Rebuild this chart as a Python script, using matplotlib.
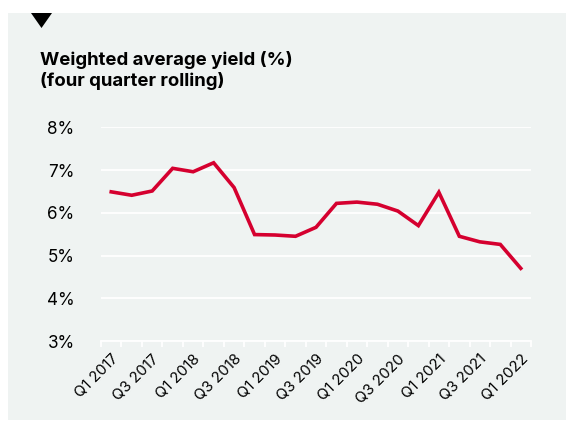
import matplotlib
matplotlib.use("Agg")
import matplotlib.pyplot as plt
from matplotlib.patches import Rectangle, Polygon
import numpy as np

plt.rcParams['font.family'] = ['Inter', 'DejaVu Sans']

quarters = ['Q1 2017', 'Q2 2017', 'Q3 2017', 'Q4 2017',
            'Q1 2018', 'Q2 2018', 'Q3 2018', 'Q4 2018',
            'Q1 2019', 'Q2 2019', 'Q3 2019', 'Q4 2019',
            'Q1 2020', 'Q2 2020', 'Q3 2020', 'Q4 2020',
            'Q1 2021', 'Q2 2021', 'Q3 2021', 'Q4 2021',
            'Q1 2022']
yield_pct = [6.49, 6.41, 6.51, 7.04, 6.96, 7.17, 6.59, 5.49, 5.48, 5.45,
             5.66, 6.22, 6.25, 6.20, 6.04, 5.70, 6.48, 5.45, 5.32, 5.26,
             4.70]
y_ticks = [3, 4, 5, 6, 7, 8]

bg = '#eff3f2'
red = '#d5002f'

W, H = 567, 421
fig = plt.figure(figsize=(W / 100, H / 100), dpi=100)
fig.patch.set_facecolor('white')

# grey panel and the small marker triangle
fig.patches.append(Rectangle((8 / W, 1 - 420 / H), 558 / W, 407 / H,
                             transform=fig.transFigure, facecolor=bg,
                             edgecolor='none', zorder=-5))
fig.patches.append(Polygon([(31 / W, 1 - 13 / H), (52 / W, 1 - 13 / H),
                            (41.5 / W, 1 - 28 / H)], closed=True,
                           transform=fig.transFigure, facecolor='black',
                           edgecolor='none', zorder=-4))

fig.text(40 / W, 1 - 51 / H, 'Weighted average yield (%)\n(four quarter rolling)',
         fontsize=13.4, fontweight='bold', va='top', ha='left', linespacing=1.2)

ax = fig.add_axes([101 / W, 1 - 341 / H, 430 / W, 213.7 / H])
ax.set_facecolor('none')
ax.set_zorder(2)

x = np.arange(len(quarters))
ax.plot(x, yield_pct, color=red, linewidth=2.6, solid_joinstyle='miter',
        zorder=3)

ax.set_xlim(-0.5, len(quarters) - 0.5)
ax.set_ylim(3, 8)
ax.set_yticks(y_ticks)
ax.set_yticklabels([f'{v}%' for v in y_ticks])
ax.grid(axis='y', color='white', linewidth=1.3)
ax.set_axisbelow(True)

ax.set_xticks(x[::2])
ax.set_xticklabels(quarters[::2], rotation=45, ha='right',
                   rotation_mode='anchor', fontsize=10.8)
ax.set_xticks(np.arange(-0.5, len(quarters)), minor=True)
ax.tick_params(axis='x', which='major', length=0, pad=8)
ax.tick_params(axis='x', which='minor', length=4, width=1.3, color='white')
ax.tick_params(axis='y', length=0, pad=19, labelsize=12.3)

for side in ['top', 'right', 'left']:
    ax.spines[side].set_visible(False)
ax.spines['bottom'].set_color('white')
ax.spines['bottom'].set_linewidth(1.3)

fig.savefig('out.png', dpi=100, facecolor=fig.get_facecolor())
